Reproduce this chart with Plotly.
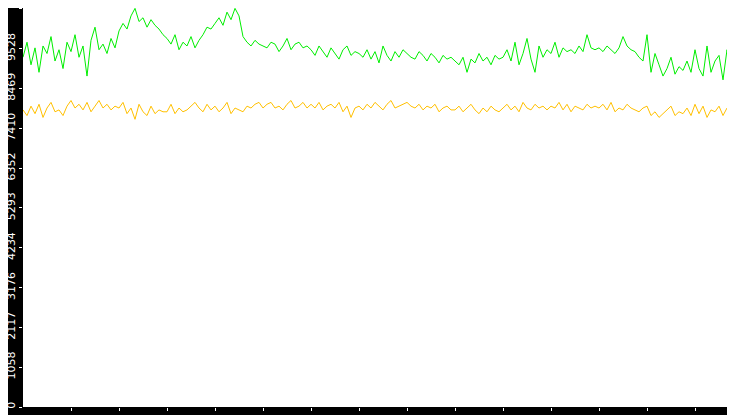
import pandas as pd
import plotly.graph_objects as go

# 5-second samples from 14:00:00
green = [
    9300, 9700, 9100, 9550, 8900, 9600, 9400, 9850, 9200, 9500, 9000, 9700,
    9450, 9900, 9300, 9600, 8800, 9750, 10100, 9500, 9650, 9400, 9800, 9550,
    10000, 10200, 10050, 10400, 10600, 10250, 10350, 10100, 10300, 10150, 10050, 9900,
    9800, 9650, 9900, 9500, 9700, 9600, 9850, 9550, 9750, 9900, 10100, 10050,
    10200, 10350, 10150, 10500, 10300, 10600, 10400, 9850, 9700, 9600, 9750, 9650,
    9600, 9550, 9700, 9650, 9450, 9600, 9800, 9500, 9650, 9700, 9550, 9600,
    9500, 9350, 9600, 9450, 9300, 9550, 9400, 9250, 9500, 9600, 9350, 9450,
    9400, 9300, 9500, 9250, 9450, 9150, 9600, 9350, 9200, 9450, 9300, 9500,
    9400, 9300, 9250, 9450, 9350, 9200, 9400, 9300, 9150, 9350, 9250, 9300,
    9200, 9100, 9300, 8900, 9250, 9150, 9400, 9200, 9300, 9100, 9350, 9250,
    9300, 9500, 9200, 9700, 9100, 9400, 9800, 9250, 8900, 9600, 9300, 9500,
    9400, 9700, 9300, 9550, 9450, 9500, 9400, 9600, 9450, 9900, 9550, 9500,
    9550, 9450, 9600, 9500, 9400, 9550, 9850, 9600, 9500, 9450, 9300, 9200,
    9900, 8900, 9400, 9100, 8800, 9000, 9300, 8850, 9050, 8950, 9200, 8900,
    9500, 9000, 8800, 9600, 8900, 9200, 9350, 8700, 9500, 8950, 9550, 9100,
]
yellow = [
    7900, 7750, 8000, 7800, 8050, 7700, 7950, 8100, 7850, 7900, 7750, 8000,
    8150, 7950, 8050, 7900, 8100, 7850, 8000, 8150, 7950, 8050, 7900, 8000,
    7950, 8100, 7800, 7950, 7650, 8050, 7850, 7750, 8000, 7800, 7900, 7850,
    7850, 8050, 7800, 7950, 7850, 7900, 8000, 8100, 7950, 7850, 8050, 7900,
    8000, 7850, 7950, 8100, 7800, 7950, 7900, 7850, 8000, 7950, 8050, 8100,
    7950, 8050, 8100, 7950, 8000, 7900, 8050, 8150, 7950, 8000, 8100, 7950,
    8050, 7950, 8100, 7900, 8000, 8050, 7950, 8100, 7850, 8000, 7700, 7950,
    8000, 7900, 8050, 7950, 8100, 8000, 7900, 8050, 8150, 7950, 8000, 8050,
    8100, 8000, 7950, 8050, 7900, 8000, 7950, 8050, 7850, 7950, 8000, 7900,
    7900, 8000, 7850, 7950, 8050, 7900, 7800, 7950, 7850, 8000, 7900, 7850,
    7950, 8050, 7900, 8000, 7850, 8100, 7950, 7900, 8050, 7950, 8000, 7900,
    8000, 7950, 8100, 7900, 8050, 7850, 8000, 7950, 7900, 8050, 7950, 8000,
    7950, 8050, 7900, 8100, 7850, 7950, 7900, 8050, 7950, 7900, 7850, 7950,
    8000, 7750, 7850, 7700, 7800, 7900, 8000, 7750, 7850, 7800, 7950, 7750,
    8050, 7800, 8000, 7700, 7900, 7850, 8000, 7750, 7950, 7850, 7900, 7950,
]
# final drop at the end of the window
tail_times = ["2024-01-01 14:14:58", "2024-01-01 14:14:59", "2024-01-01 14:15:00"]
green_tail = [9200, 4400, 3800]
yellow_tail = [7950, 7900, 0]

yticks = [0, 1058, 2117, 3176, 4234, 5293, 6352, 7410, 8469, 9528, 10587]
xticks = ["2024-01-01 14:%02d:00" % m for m in range(1, 15)]

times = list(pd.date_range("2024-01-01 14:00:00", periods=len(green), freq="5s"))
times += list(pd.to_datetime(tail_times))

fig = go.Figure()
fig.add_trace(go.Scatter(x=times, y=green + green_tail, mode="lines",
                         line=dict(color="#00ee00", width=1)))
fig.add_trace(go.Scatter(x=times, y=yellow + yellow_tail, mode="lines",
                         line=dict(color="#ffc000", width=1)))

fig.update_layout(
    width=735, height=415,
    margin=dict(l=15, r=0, t=0, b=16),
    paper_bgcolor="black", plot_bgcolor="white",
    showlegend=False,
    font=dict(family="DejaVu Sans", size=11, color="white"),
    xaxis=dict(range=["2024-01-01 14:00:00", "2024-01-01 14:15:00"],
               tickvals=xticks, tickformat="%H:%M", showgrid=False, zeroline=False,
               ticks="outside", ticklen=3, tickcolor="white", automargin=False,
               tickfont=dict(color="white", size=11)),
    yaxis=dict(range=[0, 10610], tickvals=yticks, tickangle=-90,
               showgrid=False, zeroline=False, automargin=False,
               ticks="outside", ticklen=3, tickcolor="white",
               tickfont=dict(color="white", size=11)),
)
fig.write_html("out.html")
